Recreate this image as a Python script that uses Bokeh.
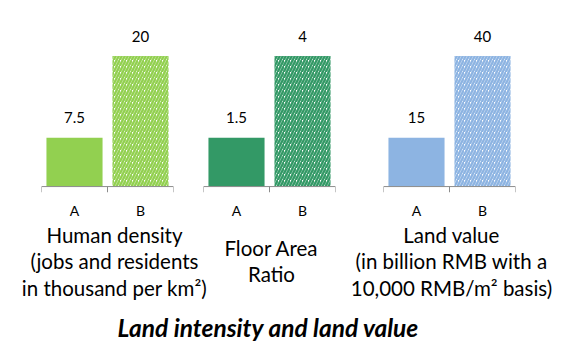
from bokeh.plotting import figure
from bokeh.models import FactorRange, Range1d, ColumnDataSource
from bokeh.layouts import column, row
from bokeh.embed import file_html
from bokeh.resources import INLINE
from bokeh.core.properties import value

# ---------------- data ----------------
categories = ["A", "B"]
density_values = [7.5, 20]
far_values = [1.5, 4]
land_values = [15, 40]
value_labels_density = ["7.5", "20"]
value_labels_far = ["1.5", "4"]
value_labels_land = ["15", "40"]
group_labels = [
    "Human density\n(jobs and residents\nin thousand per km²)",
    "Floor Area\nRatio",
    "Land value\n(in billion RMB with a\n10,000 RMB/m² basis)",
]
title_text = "Land intensity and land value"

FONT = "Lato"
AXIS_GREY = "#8c8c8c"

# vertical layout of each panel (pixels)
PANEL_H = 221
TOP_BORDER = 19
PX_ABOVE = 169      # frame pixels above the baseline
PX_BELOW = 6        # frame pixels below the baseline (tick length)
PX_MAX = 132        # pixel height of the tallest bar


def panel(vals, labels, color, border_left, border_right):
    width = border_left + 132 + border_right
    vmax = max(vals)
    unit = vmax / PX_MAX
    p = figure(width=width, height=PANEL_H, output_backend="svg", toolbar_location=None,
               x_range=FactorRange(*categories, range_padding=0),
               y_range=Range1d(-PX_BELOW * unit, PX_ABOVE * unit),
               y_axis_location=None,
               min_border_left=border_left, min_border_right=border_right,
               min_border_top=TOP_BORDER,
               min_border_bottom=PANEL_H - TOP_BORDER - PX_ABOVE - PX_BELOW)
    p.outline_line_color = None
    p.grid.visible = False
    src = ColumnDataSource(dict(x=categories, top=vals, lab=labels,
                                hatch=[" ", "/"], fill=[color, "white"]))
    p.vbar(x="x", top="top", width=0.85, source=src, fill_color="fill",
           line_color=None, hatch_pattern="hatch", hatch_color=color,
           hatch_scale=6, hatch_weight=2.4)
    p.text(x="x", y="top", text="lab", source=src, text_align="center",
           text_baseline="middle", y_offset=-20, text_font=value(FONT),
           text_font_size="15px", text_color="black")
    # category axis line and boundary ticks
    edges = [(categories[0], -0.5), (categories[1], -0.5), (categories[1], 0.5)]
    p.segment(x0=[edges[0]], y0=[0], x1=[edges[-1]], y1=[0],
              line_color=AXIS_GREY, line_width=1)
    p.segment(x0=edges, y0=[0] * 3, x1=edges, y1=[-PX_BELOW * unit] * 3,
              line_color=AXIS_GREY, line_width=1)
    ax = p.xaxis[0]
    ax.axis_line_color = None
    ax.major_tick_line_color = None
    ax.major_tick_out = 0
    ax.major_tick_in = 0
    ax.major_label_standoff = 9
    ax.major_label_text_font = FONT
    ax.major_label_text_font_size = "14px"
    ax.major_label_text_color = "black"
    return p


p1 = panel(density_values, value_labels_density, "#92d050", 41, 15)
p2 = panel(far_values, value_labels_far, "#339966", 15, 21)
p3 = panel(land_values, value_labels_land, "#8db4e2", 27, 41)

# bottom figure with group labels and the chart title
BOTTOM_W, BOTTOM_H = 556, 130
pb = figure(width=BOTTOM_W, height=BOTTOM_H, output_backend="svg", toolbar_location=None,
            x_range=Range1d(0, BOTTOM_W), y_range=Range1d(BOTTOM_H, 0),
            x_axis_location=None, y_axis_location=None,
            min_border=0)
pb.outline_line_color = None
pb.grid.visible = False
pb.text(x=[114, 271, 451], y=[40, 39.5, 40], text=group_labels,
        text_align="center", text_baseline="middle", text_font=value(FONT),
        text_font_size="20.5px", text_line_height=1.1, text_color="black")
pb.text(x=[268], y=[106], text=[title_text], text_align="center",
        text_baseline="middle", text_font=value(FONT), text_font_size="24.5px",
        text_font_style="bold italic", text_color="black")

layout = column(row(p1, p2, p3, spacing=0), pb, spacing=0)
open("out.html", "w").write(file_html(layout, INLINE))
